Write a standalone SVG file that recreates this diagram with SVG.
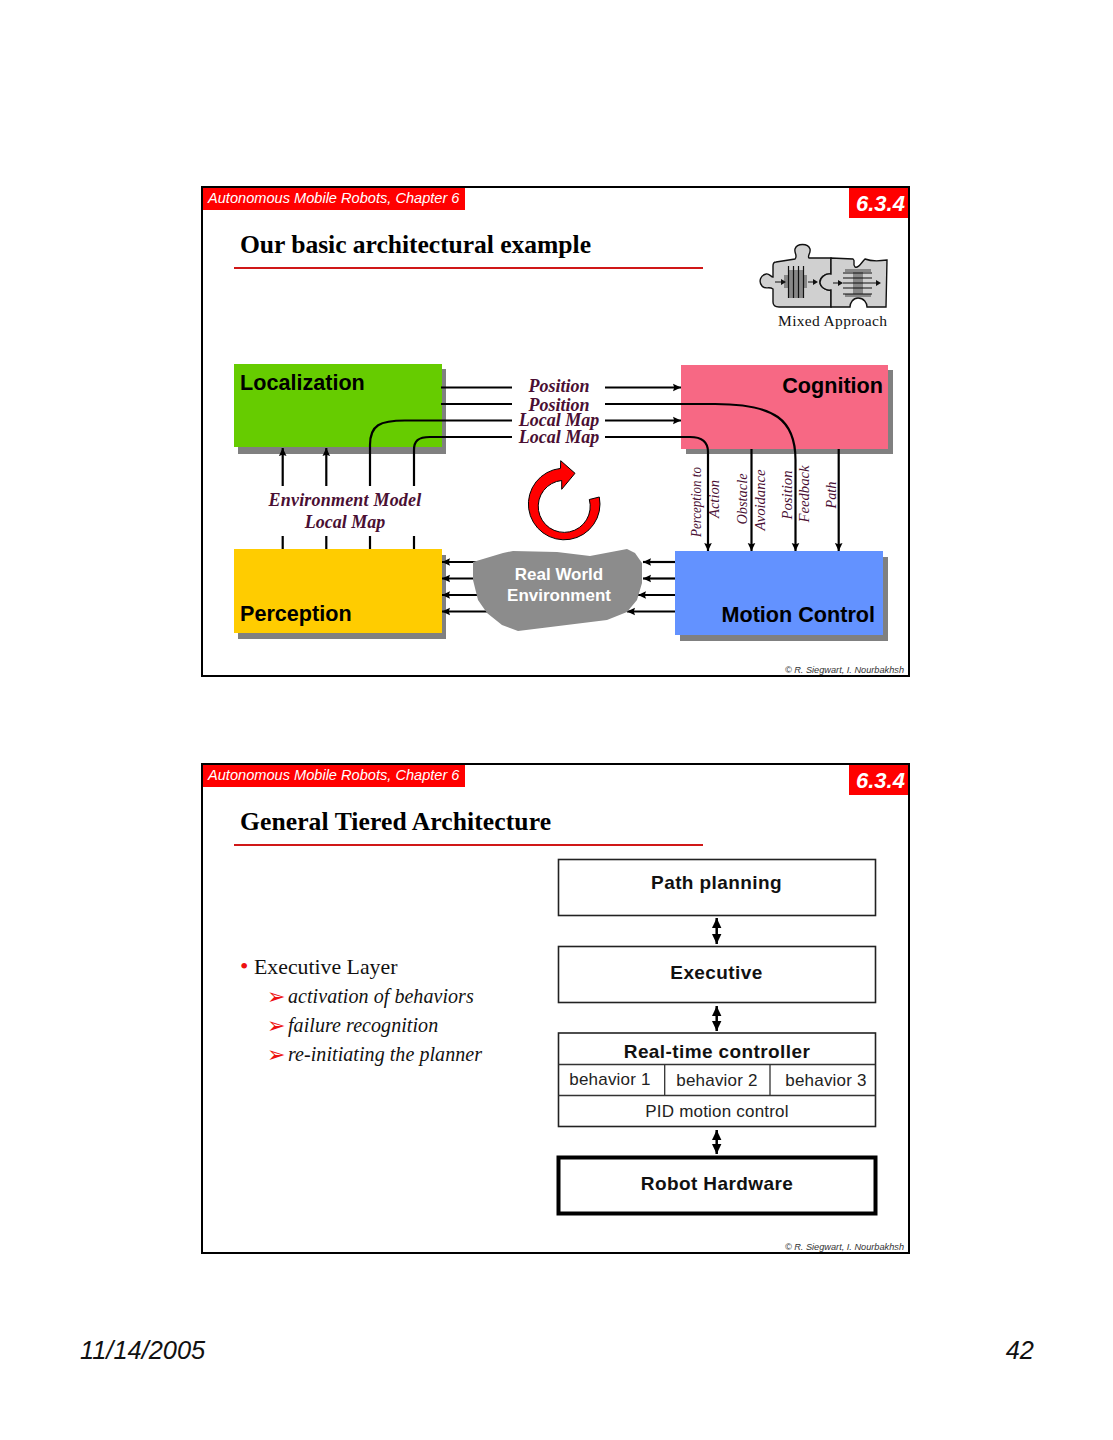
<svg xmlns="http://www.w3.org/2000/svg" width="1113" height="1440" viewBox="0 0 1113 1440">
<defs>
<marker id="ah" markerUnits="userSpaceOnUse" markerWidth="10" markerHeight="10" refX="8" refY="5" orient="auto-start-reverse"><path d="M0 1.200L8 5L0 8.800L1.200 5Z" fill="#000"/></marker>
<marker id="ab" markerUnits="userSpaceOnUse" markerWidth="11" markerHeight="11" refX="10" refY="5.500" orient="auto-start-reverse"><path d="M0 0.800L10 5.500L0 10.200Z" fill="#000"/></marker>
</defs>
<style>
text{font-family:"Liberation Sans",Arial,sans-serif}
.frame{fill:none;stroke:#000;stroke-width:2}
.red{fill:#ff0000}
.hdr{font-style:italic;font-size:14.6px;fill:#fff}
.sec{font-style:italic;font-weight:bold;font-size:22px;fill:#fff}
.ttl{font-family:"Liberation Serif",serif;font-weight:bold;font-size:25.6px;fill:#000}
.rule{stroke:#d01818;stroke-width:2}
.copy{font-style:italic;font-size:9.2px;fill:#333}
.shadow{fill:#808080}
.nm{font-weight:bold;font-size:21.6px;fill:#000}
.lbl{font-family:"Liberation Serif",serif;font-style:italic;font-weight:bold;font-size:18px;fill:#4a0f33;text-anchor:middle}
.vl{font-family:"Liberation Serif",serif;font-style:italic;font-size:14px;fill:#4a0f33;text-anchor:middle}
.c{fill:none;stroke:#000;stroke-width:2.200}
.a{fill:none;stroke:#000;stroke-width:2.200;marker-end:url(#ah)}
.d{fill:none;stroke:#000;stroke-width:2.500;marker-start:url(#ab);marker-end:url(#ab)}
.box{fill:#fff;stroke:#222;stroke-width:1.600}
.bt{font-weight:bold;font-size:19px;fill:#111;text-anchor:middle;letter-spacing:.4px}
.rt{font-size:17px;fill:#222;text-anchor:middle;letter-spacing:.2px}
.ser{font-family:"Liberation Serif",serif;fill:#111}
.sub{font-family:"Liberation Serif",serif;font-style:italic;font-size:20px;fill:#111;letter-spacing:.06px}
.tick{font-family:"DejaVu Sans",sans-serif;font-size:22px;fill:#ee1010}
.foot{font-style:italic;font-size:25.4px;fill:#111}
.pz{fill:#d0d0d0;stroke:#111;stroke-width:1.400}
</style>
<rect width="1113" height="1440" fill="#fff"/>

<g id="slide1-frame">
<rect class="red" x="203" y="188" width="262" height="22"/>
<text class="hdr" x="208" y="203">Autonomous Mobile Robots, Chapter 6</text>
<rect class="red" x="849" y="188" width="59" height="30"/>
<text class="sec" x="856" y="211">6.3.4</text>
<text class="ttl" x="240" y="253" textLength="351">Our basic architectural example</text>
<line class="rule" x1="234" y1="268" x2="703" y2="268"/>
<text class="copy" x="904" y="673" text-anchor="end">© R. Siegwart, I. Nourbakhsh</text>
<rect class="frame" x="202" y="187" width="707" height="489"/>
</g>

<g id="mixed-approach">
<path class="pz" d="M776 262L795 259C798 256 794 253 795 249C797 243 808 243 810 249C811 253 807 256 809 258L831 258L831 274C825 273 820 278 820 282C820 287 826 291 831 290L831 307L779 307C775 307 773 305 773 302L773 289C769 286 765 290 762 286C758 281 761 275 766 274C769 273 771 277 773 277L773 266C773 263 774 262 776 262Z"/>
<path class="pz" d="M831 258L853 259C856 261 852 264 855 267C858 269 861 263 865 259C870 261 880 261 887 260L886 307L867 307C867 303 864 298 858 298C853 298 850 303 850 307L831 307L831 290C826 291 820 287 820 282C820 278 825 273 831 274Z"/>
<g fill="#888">
<rect x="784" y="275" width="23" height="13"/><rect x="788" y="270" width="15" height="28"/>
<rect x="845" y="269" width="26" height="3"/><rect x="853" y="269" width="10" height="28"/><rect x="845" y="294" width="26" height="3"/>
</g>
<g stroke="#111" stroke-width="1.200" fill="none">
<path d="M788.500 266V298M793.500 266V298M798.500 266V298M803.500 266V298"/>
<path d="M843 273H872M843 278H872M843 283H872M843 288H872M843 294H872"/>
<path d="M775 282H783M808 282H815M833 283H840M872 283H878"/>
</g>
<path fill="#111" d="M781 279L786 282L781 285ZM813 279L818 282L813 285ZM838 280L843 283L838 286ZM876 280L881 283L876 286Z"/>
<text class="ser" x="778" y="326" font-size="15.500" textLength="109" lengthAdjust="spacing">Mixed Approach</text>
</g>

<g id="localization"><rect class="shadow" x="238" y="369" width="208" height="85"/><rect x="234" y="364" width="208" height="83" fill="#66cc00"/><text class="nm" x="240" y="390">Localization</text></g>
<g id="cognition"><rect class="shadow" x="686" y="370" width="207" height="84"/><rect x="681" y="365" width="207" height="84" fill="#f76884"/><text class="nm" x="883" y="393" text-anchor="end">Cognition</text></g>
<g id="perception"><rect class="shadow" x="238" y="555" width="208" height="84"/><rect x="234" y="549" width="208" height="84" fill="#ffcc00"/><text class="nm" x="240" y="621">Perception</text></g>
<g id="motion-control"><rect class="shadow" x="680" y="557" width="208" height="84"/><rect x="675" y="551" width="208" height="84" fill="#6392ff"/><text class="nm" x="875" y="622" text-anchor="end">Motion Control</text></g>

<g id="connectors">
<path class="c" d="M441 387.500H512M441 404H512"/>
<path class="c" d="M512 420.500H405C380 420.500 370 425 370 445V486"/>
<path class="c" d="M512 437H430C418 437 414 441 414 450V486"/>
<path class="a" d="M605 387.500H681"/>
<path class="a" d="M605 404H715C775 404 795.500 420 795.500 460V551"/>
<path class="a" d="M605 420.500H681"/>
<path class="a" d="M605 437H690C702 437 708 442 708 452V551"/>
<path class="a" d="M751.500 449V551"/>
<path class="a" d="M838.700 449V551"/>
<path class="a" d="M282.700 486V448"/>
<path class="a" d="M326.300 486V448"/>
<path class="c" d="M282.700 536V549M326.300 536V549M370 536V549M414 536V549"/>
<path class="a" d="M480 562H442"/><path class="a" d="M480 578.500H442"/><path class="a" d="M485 595H442"/><path class="a" d="M495 611.500H442"/>
<path class="a" d="M675 562H643"/><path class="a" d="M675 578.500H643"/><path class="a" d="M675 595H638"/><path class="a" d="M675 611.500H627"/>
</g>

<g id="real-world-environment">
<path fill="#8c8c8c" d="M473 562L503 553L513 551L557 552L590 556L627 549L635 553L642 563L642 583L637 600L627 612L607 620L518 631L502 625L487 613L478 600L473 580Z"/>
<text x="559" y="580" text-anchor="middle" font-weight="bold" font-size="17" fill="#fff">Real World</text>
<text x="559" y="601" text-anchor="middle" font-weight="bold" font-size="17" fill="#fff">Environment</text>
</g>

<g id="cycle-arrow"><path fill="#ff0000" stroke="#000" stroke-width="1" d="M599.300 497A35.800 35.800 0 1 1 560.500 468.400L560.700 460.700L575 473.300L561.700 489.300L561.700 480.500A26 26 0 1 0 589.300 499.500Z"/></g>

<g id="labels">
<text class="lbl" x="559" y="392">Position</text>
<text class="lbl" x="559" y="411">Position</text>
<text class="lbl" x="559" y="426">Local Map</text>
<text class="lbl" x="559" y="443">Local Map</text>
<text class="lbl" x="345" y="506" letter-spacing=".2">Environment Model</text>
<text class="lbl" x="345" y="528">Local Map</text>
<text class="vl" transform="translate(701 502) rotate(-90)" textLength="70" lengthAdjust="spacingAndGlyphs">Perception to</text>
<text class="vl" transform="translate(719 499) rotate(-90)" textLength="38" lengthAdjust="spacingAndGlyphs">Action</text>
<text class="vl" transform="translate(747 499) rotate(-90)" textLength="51" lengthAdjust="spacingAndGlyphs">Obstacle</text>
<text class="vl" transform="translate(765 500) rotate(-90)" textLength="61" lengthAdjust="spacingAndGlyphs">Avoidance</text>
<text class="vl" transform="translate(792 495) rotate(-90)" textLength="49" lengthAdjust="spacingAndGlyphs">Position</text>
<text class="vl" transform="translate(809 494) rotate(-90)" textLength="57" lengthAdjust="spacingAndGlyphs">Feedback</text>
<text class="vl" transform="translate(836 495) rotate(-90)" textLength="27" lengthAdjust="spacingAndGlyphs">Path</text>
</g>

<g id="slide2-frame">
<rect class="red" x="203" y="765" width="262" height="22"/>
<text class="hdr" x="208" y="780">Autonomous Mobile Robots, Chapter 6</text>
<rect class="red" x="849" y="765" width="59" height="30"/>
<text class="sec" x="856" y="788">6.3.4</text>
<text class="ttl" x="240" y="830" textLength="311">General Tiered Architecture</text>
<line class="rule" x1="234" y1="845" x2="703" y2="845"/>
<text class="copy" x="904" y="1250" text-anchor="end">© R. Siegwart, I. Nourbakhsh</text>
<rect class="frame" x="202" y="764" width="707" height="489"/>
</g>

<g id="bullets">
<text class="ser" x="240" y="974" font-size="24" style="fill:#ee1010">•</text>
<text class="ser" x="254" y="974" font-size="21.800">Executive Layer</text>
<text class="tick" x="267" y="1004">➢</text><text class="sub" x="288" y="1003">activation of behaviors</text>
<text class="tick" x="267" y="1033">➢</text><text class="sub" x="288" y="1032">failure recognition</text>
<text class="tick" x="267" y="1062">➢</text><text class="sub" x="288" y="1061">re-initiating the planner</text>
</g>

<g id="path-planning"><rect class="box" x="558.500" y="859.500" width="317" height="56"/><text class="bt" x="716.500" y="889">Path planning</text></g>
<g id="executive"><rect class="box" x="558.500" y="946.500" width="317" height="56"/><text class="bt" x="716.500" y="979">Executive</text></g>
<g id="real-time-controller">
<rect class="box" x="558.500" y="1033" width="317" height="93.500"/>
<path stroke="#333" stroke-width="1.300" fill="none" d="M558.500 1064.500H875.500M558.500 1095.500H875.500M664.700 1064.500V1095.500M770 1064.500V1095.500"/>
<text class="bt" x="717" y="1057.500">Real-time controller</text>
<text class="rt" x="610" y="1085">behavior 1</text>
<text class="rt" x="717" y="1086">behavior 2</text>
<text class="rt" x="826" y="1086">behavior 3</text>
<text class="rt" x="717" y="1117">PID motion control</text>
</g>
<g id="robot-hardware"><rect x="558.500" y="1157.500" width="317" height="56" fill="#fff" stroke="#000" stroke-width="4"/><text class="bt" x="717" y="1190">Robot Hardware</text></g>

<g id="tier-connectors">
<path class="d" d="M716.700 918V944"/>
<path class="d" d="M716.700 1006V1031"/>
<path class="d" d="M716.700 1130V1154"/>
</g>

<g id="footer">
<text class="foot" x="80" y="1359">11/14/2005</text>
<text class="foot" x="1034" y="1359" text-anchor="end">42</text>
</g>
</svg>
